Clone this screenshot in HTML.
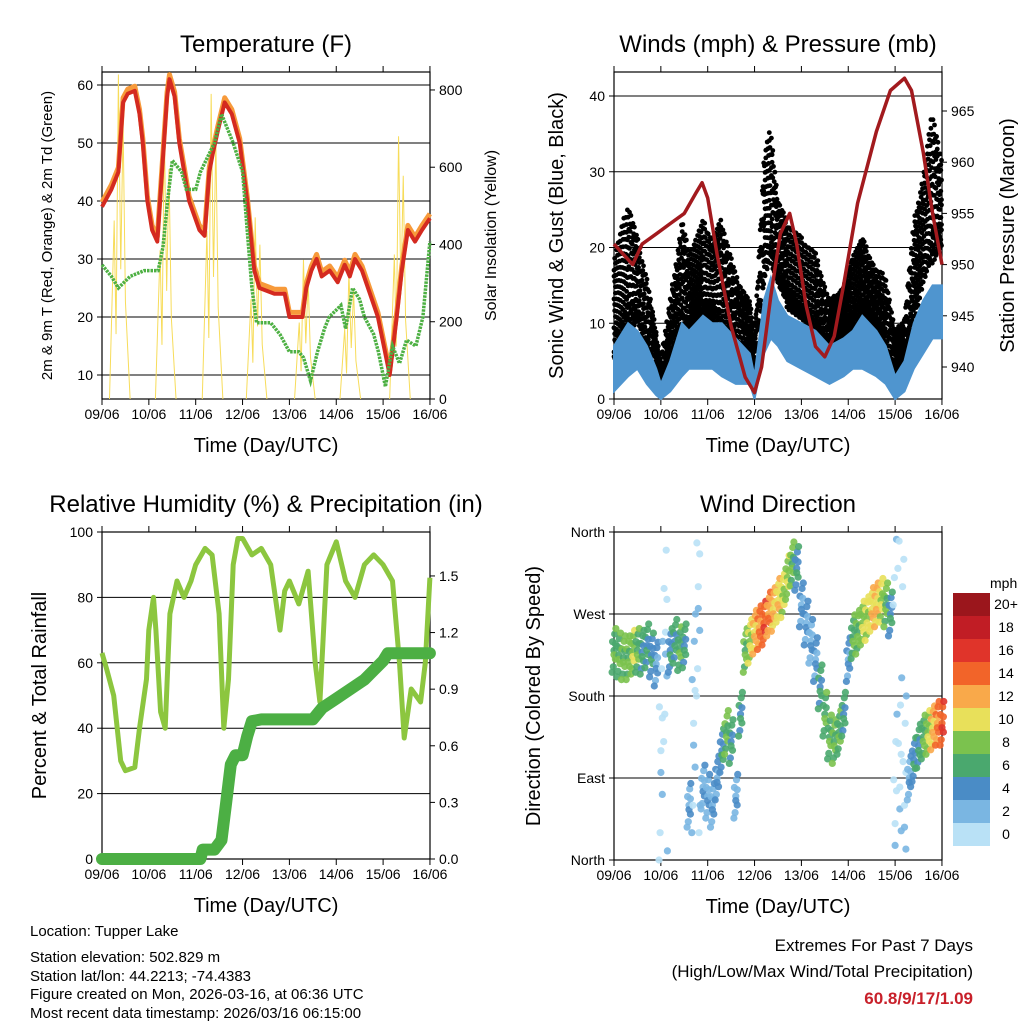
<!DOCTYPE html>
<html><head><meta charset="utf-8">
<style>
html,body{margin:0;padding:0;background:#fff;}
svg{display:block;font-family:"Liberation Sans",sans-serif;}
</style></head>
<body>
<svg id="chart" width="1024" height="1024" viewBox="0 0 1024 1024" xmlns="http://www.w3.org/2000/svg">
<rect width="1024" height="1024" fill="#fff"/>
<g id="p1"></g>
<g id="p2"></g>
<g id="p3"></g>
<g id="p4"></g>
<g font-size="15" fill="#000">
<text x="30" y="936">Location: Tupper Lake</text>
<text x="30" y="962">Station elevation: 502.829 m</text>
<text x="30" y="981">Station lat/lon: 44.2213; -74.4383</text>
<text x="30" y="999">Figure created on Mon, 2026-03-16, at 06:36 UTC</text>
<text x="30" y="1018">Most recent data timestamp: 2026/03/16 06:15:00</text>
</g>
<g text-anchor="end">
<text x="973" y="951" font-size="17">Extremes For Past 7 Days</text>
<text x="973" y="977" font-size="17">(High/Low/Max Wind/Total Precipitation)</text>
<text x="973" y="1004" font-size="17" font-weight="bold" fill="#c8202a">60.8/9/17/1.09</text>
</g>
</svg>
<script>
// ---------- data ----------
const dayLabels = ["09/06","10/06","11/06","12/06","13/06","14/06","15/06","16/06"];
const tempT  = [0,0.2,0.35,0.45,0.55,0.7,0.8,0.87,0.97,1.07,1.18,1.28,1.39,1.44,1.55,1.65,1.86,2.08,2.19,2.29,2.36,2.47,2.62,2.77,2.94,3.1,3.25,3.36,3.68,3.9,4.0,4.2,4.28,4.36,4.47,4.58,4.69,4.86,5.03,5.18,5.29,5.4,5.55,5.72,5.89,6.04,6.14,6.29,6.4,6.53,6.68,6.83,7.0];
const tempV  = [39,42,45,57,58.5,59,55,50,40,35,33,45,58,61,58,50,40,35,34,45,48,52,57,55,50,40,28,25,24,24,20,20,20,25,28,30,27,28,26,29,27,30,28,24,20,14,10,20,28,35,33,35,37];
const dewT   = [0,0.2,0.35,0.6,0.9,1.2,1.3,1.4,1.5,1.7,1.8,2.0,2.1,2.4,2.55,2.8,3.0,3.1,3.2,3.3,3.6,3.8,4.0,4.2,4.3,4.45,4.6,4.75,4.85,5.1,5.2,5.35,5.5,5.6,5.8,5.9,6.05,6.2,6.35,6.5,6.7,6.85,7.0];
const dewV   = [29,27,25,27,28,28,32,40,47,45,42,42,45,50,55,50,45,35,25,19,19,17,14,14,13,9,14,18,20,22,18,25,23,20,17,14,8,15,12,16,15,20,33];
const solarDay  = [0.38,1.36,2.36,3.3,4.33,5.3,6.36];
const solarPeak = [840,700,790,470,360,330,680];
const gustT  = [0,0.3,0.5,0.7,0.9,1.0,1.2,1.45,1.6,1.9,2.1,2.3,2.6,2.9,3.0,3.2,3.35,3.5,3.7,4.0,4.3,4.6,4.9,5.1,5.3,5.6,5.8,6.0,6.2,6.4,6.6,6.8,7.0];
const gustLo = [5,8,10,5,2,1,3,8,8,10,10,8,5,5,2,15,18,15,12,10,8,5,7,8,10,8,5,1,5,10,15,18,20];
const gustHi = [17,24,20,15,8,5,12,22,18,22,20,22,15,12,8,30,34,25,22,20,18,12,14,18,20,16,15,8,10,22,28,36,30];
const windLo = [1,3,4,2,0.5,0,1,3,4,4,4,3,2,2,0,6,8,7,5,4,3,2,3,4,4,3,2,0,1,4,6,8,8];
const windHi = [7,10,9,7,4,2,5,10,9,11,10,10,8,6,3,13,16,13,11,10,9,7,8,9,11,9,7,3,5,10,13,15,15];
const presT  = [0,0.2,0.4,0.6,0.9,1.2,1.5,1.75,1.88,2.0,2.2,2.5,2.8,3.0,3.15,3.35,3.55,3.75,3.9,4.1,4.3,4.5,4.7,4.9,5.2,5.6,5.9,6.2,6.35,6.6,6.8,7.0];
const presV  = [952,951,950,952,953,954,955,957,958,956.5,951,944,939,937.5,940,947,953,955,952,946,942,941,943,948,956,963,967,968.2,967,961,955,950];
const rhT = [0,0.1,0.25,0.4,0.5,0.7,0.8,0.95,1.0,1.1,1.15,1.25,1.35,1.45,1.6,1.75,1.9,2.0,2.2,2.35,2.5,2.6,2.7,2.8,2.9,3.0,3.2,3.4,3.6,3.8,3.9,4.0,4.2,4.4,4.55,4.65,4.8,5.0,5.2,5.4,5.6,5.8,6.0,6.2,6.35,6.45,6.6,6.8,6.9,7.0];
const rhV = [63,58,50,30,27,28,40,55,70,80,70,45,40,75,85,80,85,90,95,93,75,40,55,90,98,98,93,95,90,70,82,85,78,88,60,48,90,97,85,80,90,93,90,85,60,37,52,48,60,86];
const rainT = [0,2.1,2.15,2.4,2.55,2.65,2.75,2.85,3.0,3.1,3.2,3.4,4.5,4.7,5.0,5.3,5.6,5.8,6.0,6.1,7.0];
const rainV = [0,0,0.05,0.05,0.1,0.3,0.5,0.55,0.55,0.65,0.73,0.74,0.74,0.8,0.85,0.9,0.95,1.0,1.05,1.09,1.09];
const dirT = [0,0.1,0.2,0.3,0.4,0.5,0.6,0.7,0.8,0.9,1.0,1.1,1.2,1.3,1.4,1.5,1.6,1.7,1.8,1.9,2.0,2.1,2.2,2.3,2.4,2.5,2.6,2.7,2.8,2.9,3.0,3.1,3.2,3.3,3.4,3.5,3.6,3.7,3.8,3.9,4.0,4.1,4.2,4.3,4.4,4.5,4.6,4.7,4.8,4.9,5.0,5.1,5.2,5.3,5.4,5.5,5.6,5.7,5.8,5.9,6.0,6.1,6.2,6.3,6.4,6.5,6.6,6.7,6.8,6.9,7.0];
const dirV = [230,225,222,222,228,230,228,235,225,215,120,250,230,240,232,235,60,150,300,80,70,60,90,120,140,130,70,160,230,240,250,255,260,270,275,285,290,310,325,320,280,260,240,220,190,160,135,130,140,160,220,245,250,260,265,275,280,285,280,270,40,80,60,90,110,125,135,140,145,150,150];
const dirS = [7,7,8,8,9,7,6,6,5,4,1,1,5,6,7,6,3,2,1,3,3,3,4,5,8,6,3,6,8,10,12,14,15,13,12,11,10,9,8,5,4,4,3,4,6,7,7,8,7,6,4,7,8,9,10,11,12,10,8,5,1,1,1,3,5,6,7,9,12,14,15];
const cbLabels = ["20+","18","16","14","12","10","8","6","4","2","0"];
const cbColors = ["#9b161c","#c11d25","#e0342a","#f26429","#f9a94a","#e8e05a","#7bc24e","#4aa86e","#4a8cc6","#7ab6e2","#b9e1f6"];

// ---------- helpers ----------
const NS="http://www.w3.org/2000/svg";
function mk(parent,tag,attrs,text){const e=document.createElementNS(NS,tag);for(const k in attrs)e.setAttribute(k,attrs[k]);if(text!==undefined)e.textContent=text;parent.appendChild(e);return e;}
function pathFrom(ts,vs,sx,sy){return ts.map((t,i)=>(i?"L":"M")+sx(t).toFixed(1)+","+sy(vs[i]).toFixed(1)).join("");}
function interp(ts,vs,t){for(let i=1;i<ts.length;i++){if(t<=ts[i]){const f=(t-ts[i-1])/(ts[i]-ts[i-1]);return vs[i-1]+f*(vs[i]-vs[i-1]);}}return vs[vs.length-1];}

function frame(g,P,o){
  o.leftTicks.forEach(v=>{const y=o.ly(v);
    const gl=mk(g,"line",{x1:P.x0,x2:P.x1,y1:y,y2:y,stroke:"#000","stroke-width":1});
    
    
    mk(g,"line",{x1:P.x0-5,x2:P.x0,y1:y,y2:y,stroke:"#000"});
    const t=mk(g,"text",{x:P.x0-9,y:y+5,"text-anchor":"end","font-size":14},o.leftFmt(v));
    
    
  });
  if(o.rightTicks){o.rightTicks.forEach(v=>{const y=o.ry(v);
    mk(g,"line",{x1:P.x1,x2:P.x1+5,y1:y,y2:y,stroke:"#000"});
    const t=mk(g,"text",{x:P.x1+9,y:y+5,"font-size":14},o.rightFmt(v));
    
    
  });}
  dayLabels.forEach((d,i)=>{const x=P.x0+i*P.day;
    mk(g,"line",{x1:x,x2:x,y1:P.y1,y2:P.y1+6,stroke:"#000"});
    mk(g,"line",{x1:x,x2:x,y1:P.y0,y2:P.y0-6,stroke:"#000"});
    const t=mk(g,"text",{x:x,y:P.y1+20,"text-anchor":"middle","font-size":14},d);
    
    
  });
  const b=mk(g,"rect",{x:P.x0,y:P.y0,width:P.x1-P.x0,height:P.y1-P.y0,fill:"none",stroke:"#000","stroke-width":1.2});
  
  
  const tt=mk(g,"text",{x:o.titleX,y:P.y0-20,"text-anchor":"middle","font-size":24},o.title);
  
  
  const xt=mk(g,"text",{x:(P.x0+P.x1)/2,y:P.y1+53,"text-anchor":"middle","font-size":20},"Time (Day/UTC)");
  
  
  const cy=(P.y0+P.y1)/2;
  const yl=mk(g,"text",{x:o.ltX,y:cy,"text-anchor":"middle","font-size":o.ltSize,transform:`rotate(-90 ${o.ltX} ${cy})`},o.leftTitle);
  
  
  if(o.rightTitle){const yr=mk(g,"text",{x:o.rtX,y:cy,"text-anchor":"middle","font-size":o.rtSize,transform:`rotate(-90 ${o.rtX} ${cy})`},o.rightTitle);
    
    }
}

// ---------- panel 1: temperature ----------
(function(){
  const g=document.getElementById("p1");
  const P={x0:102,x1:430,y0:72,y1:399,day:46.85};
  const sx=t=>P.x0+t*P.day, sy=v=>317-(v-20)*5.8, ry=v=>399-v*0.3863;
  frame(g,P,{leftTicks:[10,20,30,40,50,60],ly:sy,leftFmt:v=>v,rightTicks:[0,200,400,600,800],ry:ry,rightFmt:v=>v,
    title:"Temperature (F)",titleX:266,leftTitle:"2m & 9m T (Red, Orange) & 2m Td (Green)",ltX:52,ltSize:15,
    rightTitle:"Solar Insolation (Yellow)",rtX:496,rtSize:16});
  let sd="";
  solarDay.forEach((d,i)=>{const p=solarPeak[i];
    sd+=`M${sx(d-0.22)},${ry(0)}L${sx(d-0.12)},${ry(p*0.55)}L${sx(d-0.08)},${ry(p*0.2)}L${sx(d-0.03)},${ry(p)}L${sx(d+0.02)},${ry(p*0.4)}L${sx(d+0.07)},${ry(p*0.85)}L${sx(d+0.12)},${ry(p*0.3)}L${sx(d+0.22)},${ry(0)}`;});
  const s=mk(g,"path",{d:sd,fill:"none",stroke:"#f7dc5a","stroke-width":1});
  
  
  const o=mk(g,"path",{d:pathFrom(tempT,tempV.map(v=>v+0.8),sx,sy),fill:"none",stroke:"#f79a3a","stroke-width":5,"stroke-linejoin":"round"});
  
  
  const r=mk(g,"path",{d:pathFrom(tempT,tempV,sx,sy),fill:"none",stroke:"#d42a20","stroke-width":4,"stroke-linejoin":"round"});
  
  
  const d=mk(g,"path",{d:pathFrom(dewT,dewV,sx,sy),fill:"none",stroke:"#4db043","stroke-width":3.5,"stroke-dasharray":"2.5 1"});
  
  
})();

// ---------- panel 2: winds ----------
(function(){
  const g=document.getElementById("p2");
  const P={x0:614,x1:942,y0:72,y1:399,day:46.85};
  const sx=t=>P.x0+t*P.day, sy=v=>399-v*7.575, ry=v=>367-(v-940)*10.24;
  frame(g,P,{leftTicks:[0,10,20,30,40],ly:sy,leftFmt:v=>v,rightTicks:[940,945,950,955,960,965],ry:ry,rightFmt:v=>v,
    title:"Winds (mph) & Pressure (mb)",titleX:778,leftTitle:"Sonic Wind & Gust (Blue, Black)",ltX:563,ltSize:20,
    rightTitle:"Station Pressure (Maroon)",rtX:1014,rtSize:20});
  const gd=mk(g,"g",{fill:"#000"});
  
  
  const fr=[0.05,0.25,0.45,0.65,0.85,1.05,1.2];
  for(let i=0;i<=466;i++){
    const t=i*0.015;
    const lo=interp(gustT,gustLo,t), hi=interp(gustT,gustHi,t);
    fr.forEach((f,k)=>{
      const ff=(f+((i*37+k*53)%23)/60)%1.15;
      const c=mk(gd,"circle",{cx:sx(t).toFixed(1),cy:sy(lo+(hi-lo)*ff).toFixed(1),r:2.4});
    });
  }
  const wb=mk(g,"path",{d:pathFrom(gustT,windHi,sx,sy)+pathFrom(gustT.slice().reverse(),windLo.slice().reverse(),sx,sy).replace("M","L")+"Z",fill:"#4f95cf",stroke:"#4f95cf","stroke-width":2});
  
  
  const p=mk(g,"path",{d:pathFrom(presT,presV,sx,ry),fill:"none",stroke:"#a21a1e","stroke-width":3.5,"stroke-linejoin":"round"});
  
  
})();

// ---------- panel 3: humidity & precip ----------
(function(){
  const g=document.getElementById("p3");
  const P={x0:102,x1:430,y0:532,y1:859,day:46.85};
  const sx=t=>P.x0+t*P.day, sy=v=>859-v*3.27, ry=v=>859-v*188.7;
  frame(g,P,{leftTicks:[0,20,40,60,80,100],ly:sy,leftFmt:v=>v,rightTicks:[0,0.3,0.6,0.9,1.2,1.5],ry:ry,rightFmt:v=>v.toFixed(1),
    title:"Relative Humidity (%) & Precipitation (in)",titleX:266,leftTitle:"Percent & Total Rainfall",ltX:46,ltSize:20});
  const rh=mk(g,"path",{d:pathFrom(rhT,rhV,sx,sy),fill:"none",stroke:"#8cc63f","stroke-width":5,"stroke-linejoin":"round"});
  
  
  const rn=mk(g,"path",{d:pathFrom(rainT,rainV,sx,ry),fill:"none",stroke:"#4caf44","stroke-width":12,"stroke-linejoin":"round","stroke-linecap":"round"});
  
  
})();

// ---------- panel 4: wind direction ----------
(function(){
  const g=document.getElementById("p4");
  const P={x0:614,x1:942,y0:532,y1:860,day:46.85};
  const sx=t=>P.x0+t*P.day, sy=v=>860-v*0.9111;
  const names={0:"North",90:"East",180:"South",270:"West",360:"North"};
  frame(g,P,{leftTicks:[0,90,180,270,360],ly:sy,leftFmt:v=>names[v],
    title:"Wind Direction",titleX:778,leftTitle:"Direction (Colored By Speed)",ltX:540,ltSize:20});
  const col=s=>cbColors[10-Math.min(10,Math.floor(s/2))];
  const jt=[[0,0],[-0.03,8],[0.03,-8],[-0.015,-15],[0.015,15],[0,-4],[0.03,6],[-0.04,-20],[0.04,20]];
  dirT.forEach((t,i)=>{
    const spread=dirS[i]<=2?6:1.2;
    jt.forEach((j,k)=>{
      let dv=dirV[i]+j[1]*spread; dv=((dv%360)+360)%360;
      const c=mk(g,"circle",{cx:sx(t+j[0]).toFixed(1),cy:sy(dv).toFixed(1),r:3.6,fill:col(Math.max(0,dirS[i]+(k%3-1))),"fill-opacity":0.9});
      
      
    });
  });
  const cb=mk(g,"g",{});
  
  
  const u=mk(cb,"text",{x:990,y:588,"font-size":14},"mph");
  
  
  cbColors.forEach((c,i)=>{
    const r=mk(cb,"rect",{x:953,y:593+i*23,width:37,height:23,fill:c});
    
    
    const t=mk(cb,"text",{x:1006,y:593+i*23+16,"text-anchor":"middle","font-size":14},cbLabels[i]);
    
    
  });
})();
</script>
</body></html>
